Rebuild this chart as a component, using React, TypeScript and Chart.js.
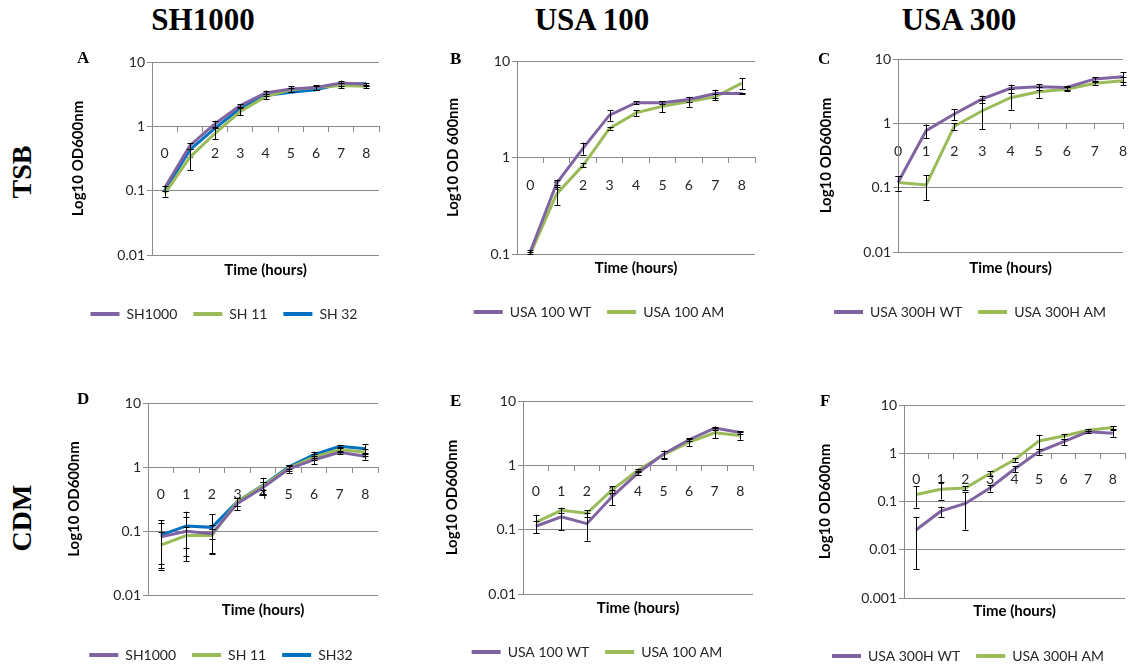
import { useEffect, useRef } from 'react';
import { Chart, registerables } from 'chart.js';

Chart.register(...registerables);
Chart.defaults.font.family = "Lato, 'Liberation Sans', sans-serif";

// Sampling times (hours)
const HOURS = ['0', '1', '2', '3', '4', '5', '6', '7', '8'];

// A — SH1000 background in TSB (OD600, mean and SD)
const A_SH1000 = [0.11, 0.5, 1.1, 2.1, 3.3, 3.8, 4.0, 4.7, 4.5];
const A_SH1000_SD = [0.01, 0.05, 0.12, 0.1, 0.3, 0.4, 0.35, 0.45, 0.2];
const A_SH11 = [0.09, 0.33, 0.78, 1.7, 2.9, 3.7, 4.0, 4.3, 4.2];
const A_SH11_SD = [0.01, 0.12, 0.15, 0.22, 0.25, 0.3, 0.3, 0.4, 0.25];
const A_SH32 = [0.1, 0.43, 0.94, 1.9, 3.0, 3.4, 3.7, 4.6, 4.6];

// B — USA 100 in TSB
const B_WT = [0.105, 0.54, 1.25, 2.75, 3.7, 3.7, 4.0, 4.6, 4.6];
const B_WT_SD = [0.005, 0.05, 0.18, 0.35, 0.15, 0.15, 0.2, 0.45, 0.1];
const B_AM = [0.1, 0.42, 0.83, 2.0, 2.9, 3.4, 3.8, 4.25, 5.9];
const B_AM_SD = [0.005, 0.1, 0.04, 0.05, 0.2, 0.45, 0.45, 0.3, 0.8];

// C — USA 300 in TSB
const C_WT = [0.12, 0.77, 1.4, 2.4, 3.5, 3.7, 3.6, 4.9, 5.3];
const C_WT_SD = [0.03, 0.18, 0.27, 0.3, 0.5, 0.35, 0.25, 0.3, 0.9];
const C_AM = [0.12, 0.11, 0.9, 1.57, 2.5, 3.1, 3.4, 4.2, 4.6];
const C_AM_SD = [0.03, 0.045, 0.1, 0.75, 0.87, 0.6, 0.25, 0.2, 0.7];

// D — SH1000 background in CDM
const D_SH1000 = [0.081, 0.099, 0.091, 0.27, 0.48, 0.93, 1.3, 1.7, 1.47];
const D_SH1000_SD = [0.05, 0.065, 0.015, 0.06, 0.1, 0.12, 0.2, 0.1, 0.17];
const D_SH11 = [0.06, 0.085, 0.085, 0.29, 0.51, 0.96, 1.43, 1.87, 1.7];
const D_SH11_SD = [0.035, 0.03, 0.04, 0.04, 0.08, 0.1, 0.15, 0.15, 0.2];
const D_SH32 = [0.086, 0.12, 0.114, 0.29, 0.52, 1.0, 1.56, 2.1, 1.93];
const D_SH32_SD = [0.06, 0.08, 0.07, 0.04, 0.16, 0.08, 0.18, 0.1, 0.35];

// E — USA 100 in CDM
const E_WT = [0.113, 0.158, 0.124, 0.33, 0.76, 1.5, 2.5, 3.8, 3.25];
const E_WT_SD = [0.025, 0.06, 0.057, 0.09, 0.05, 0.2, 0.15, 0.2, 0.15];
const E_AM = [0.13, 0.2, 0.18, 0.42, 0.84, 1.46, 2.3, 3.2, 2.9];
const E_AM_SD = [0.04, 0.02, 0.02, 0.05, 0.05, 0.22, 0.3, 0.55, 0.4];

// F — USA 300 in CDM
const F_WT = [0.026, 0.063, 0.091, 0.19, 0.47, 1.08, 1.74, 2.8, 2.6];
const F_WT_SD = [0.022, 0.015, 0.065, 0.03, 0.07, 0.15, 0.25, 0.15, 0.4];
const F_AM = [0.14, 0.18, 0.19, 0.38, 0.73, 1.8, 2.27, 3.0, 3.4];
const F_AM_SD = [0.065, 0.07, 0.02, 0.05, 0.06, 0.6, 0.25, 0.15, 0.25];

// Log axis decades
const TICKS_01_10 = [0.1, 1, 10];
const TICKS_001_10 = [0.01, 0.1, 1, 10];
const TICKS_0001_10 = [0.001, 0.01, 0.1, 1, 10];

const PURPLE = '#8064A2';
const GREEN = '#9BBB59';
const BLUE = '#0070C0';
const GRID = '#8a8a8a';
const TEXT = '#262626';

type Series = { label: string; color: string; values: number[]; sd?: number[] };
type PanelSpec = {
  yTitle: string;
  yTicks: number[];
  offset: boolean;
  series: Series[];
  box: { left: number; top: number; width: number; height: number };
  pad: number;
  yAxisWidth: number;
  yTitlePad: number;
  xTickPad: number;
  titlePad: { top: number; bottom: number };
};

const PANELS: PanelSpec[] = [
  {
    yTitle: 'Log10 OD600nm', yTicks: TICKS_001_10, offset: true,
    series: [
      { label: 'SH1000', color: PURPLE, values: A_SH1000, sd: A_SH1000_SD },
      { label: 'SH 11', color: GREEN, values: A_SH11, sd: A_SH11_SD },
      { label: 'SH 32', color: BLUE, values: A_SH32 },
    ],
    box: { left: 63, top: 52, width: 322, height: 279 }, pad: 6, yAxisWidth: 83, yTitlePad: 0,
    xTickPad: 14, titlePad: { top: 6, bottom: 12 },
  },
  {
    yTitle: 'Log10 OD 600nm', yTicks: TICKS_01_10, offset: true,
    series: [
      { label: 'USA 100 WT', color: PURPLE, values: B_WT, sd: B_WT_SD },
      { label: 'USA 100 AM', color: GREEN, values: B_AM, sd: B_AM_SD },
    ],
    box: { left: 437, top: 51, width: 324, height: 278 }, pad: 6, yAxisWidth: 74, yTitlePad: 1,
    xTickPad: 14.5, titlePad: { top: 5, bottom: 12 },
  },
  {
    yTitle: 'Log10 OD600nm', yTicks: TICKS_001_10, offset: false,
    series: [
      { label: 'USA 300H WT', color: PURPLE, values: C_WT, sd: C_WT_SD },
      { label: 'USA 300H AM', color: GREEN, values: C_AM, sd: C_AM_SD },
    ],
    box: { left: 811, top: 49, width: 318, height: 280 }, pad: 6, yAxisWidth: 81, yTitlePad: 0,
    xTickPad: 14.5, titlePad: { top: 7, bottom: 12 },
  },
  {
    yTitle: 'Log10 OD600nm', yTicks: TICKS_001_10, offset: true,
    series: [
      { label: 'SH1000', color: PURPLE, values: D_SH1000, sd: D_SH1000_SD },
      { label: 'SH 11', color: GREEN, values: D_SH11, sd: D_SH11_SD },
      { label: 'SH32', color: BLUE, values: D_SH32, sd: D_SH32_SD },
    ],
    box: { left: 58, top: 393, width: 326, height: 279 }, pad: 6, yAxisWidth: 84, yTitlePad: 1,
    xTickPad: 14.5, titlePad: { top: 6, bottom: 13 },
  },
  {
    yTitle: 'Log10 OD600nm', yTicks: TICKS_001_10, offset: true,
    series: [
      { label: 'USA 100 WT', color: PURPLE, values: E_WT, sd: E_WT_SD },
      { label: 'USA 100 AM', color: GREEN, values: E_AM, sd: E_AM_SD },
    ],
    box: { left: 435, top: 391, width: 324, height: 278 }, pad: 6, yAxisWidth: 82, yTitlePad: 2,
    xTickPad: 12.5, titlePad: { top: 5, bottom: 12 },
  },
  {
    yTitle: 'Log10 OD600nm', yTicks: TICKS_0001_10, offset: true,
    series: [
      { label: 'USA 300H WT', color: PURPLE, values: F_WT, sd: F_WT_SD },
      { label: 'USA 300H AM', color: GREEN, values: F_AM, sd: F_AM_SD },
    ],
    box: { left: 806, top: 395, width: 324, height: 278 }, pad: 5, yAxisWidth: 93, yTitlePad: 5,
    xTickPad: 12.5, titlePad: { top: 4, bottom: 13 },
  },
];

// Draws mean ± SD whiskers with caps for every dataset that carries an `errors` array
const errorBarPlugin = {
  id: 'errorBars',
  afterDatasetsDraw(chart: any) {
    const { ctx, chartArea } = chart;
    const yScale = chart.scales.y;
    ctx.save();
    ctx.strokeStyle = '#000';
    ctx.lineWidth = 1;
    chart.data.datasets.forEach((ds: any, di: number) => {
      const errs: number[] | undefined = ds.errors;
      if (!errs) return;
      const meta = chart.getDatasetMeta(di);
      meta.data.forEach((pt: any, i: number) => {
        const v = ds.data[i];
        const e = errs[i];
        if (!e) return;
        const x = Math.round(pt.x) + 0.5;
        const yTop = Math.max(yScale.getPixelForValue(v + e), chartArea.top);
        const low = v - e;
        const lowClipped = !(low > 0) || yScale.getPixelForValue(low) > chartArea.bottom;
        const yBot = lowClipped ? chartArea.bottom : yScale.getPixelForValue(low);
        ctx.beginPath();
        ctx.moveTo(x, yTop);
        ctx.lineTo(x, yBot);
        ctx.moveTo(x - 3, Math.round(yTop) + 0.5);
        ctx.lineTo(x + 3, Math.round(yTop) + 0.5);
        if (!lowClipped) {
          ctx.moveTo(x - 3, Math.round(yBot) + 0.5);
          ctx.lineTo(x + 3, Math.round(yBot) + 0.5);
        }
        ctx.stroke();
      });
    });
    ctx.restore();
  },
};

function GrowthPanel({ spec }: { spec: PanelSpec }) {
  const ref = useRef<HTMLCanvasElement | null>(null);

  useEffect(() => {
    if (!ref.current) return;
    const yMin = spec.yTicks[0];
    const yMax = spec.yTicks[spec.yTicks.length - 1];
    const chart = new Chart(ref.current, {
      type: 'line',
      data: {
        labels: HOURS,
        datasets: spec.series.map((s) => ({
          label: s.label,
          data: s.values,
          errors: s.sd,
          borderColor: s.color,
          backgroundColor: s.color,
          borderWidth: 3,
          pointRadius: 0,
          pointHoverRadius: 0,
          tension: 0,
          fill: false,
        })) as any,
      },
      options: {
        responsive: false,
        animation: false,
        events: [],
        layout: { padding: { left: spec.pad, right: spec.pad, top: 10, bottom: 0 } },
        scales: {
          x: {
            type: 'category',
            position: { y: 1 } as any,
            offset: spec.offset,
            grid: {
              display: true,
              drawOnChartArea: false,
              drawTicks: true,
              tickLength: 5,
              offset: spec.offset,
              color: GRID,
            },
            border: { display: true, color: GRID, width: 1 },
            ticks: {
              padding: spec.xTickPad,
              font: { size: 14 },
              color: TEXT,
              maxRotation: 0,
              autoSkip: false,
            },
            afterFit: (s: any) => {
              s.paddingLeft = 0;
              s.paddingRight = 0;
            },
          },
          y: {
            type: 'logarithmic',
            min: yMin,
            max: yMax,
            afterBuildTicks: (s: any) => {
              s.ticks = spec.yTicks.map((v) => ({ value: v }));
            },
            ticks: {
              callback: (v: any) => String(v),
              font: { size: 14 },
              color: TEXT,
              padding: 2,
            },
            grid: { color: GRID, tickLength: 5, drawTicks: true },
            border: { display: true, color: GRID },
            title: {
              display: true,
              text: spec.yTitle,
              font: { size: 15, weight: 'bold' },
              color: '#000',
              padding: { top: spec.yTitlePad, bottom: 0 },
            },
            afterFit: (s: any) => {
              s.width = spec.yAxisWidth;
              s.paddingTop = 0;
              s.paddingBottom = 0;
            },
          },
        },
        plugins: {
          legend: {
            position: 'bottom',
            labels: {
              boxWidth: 29,
              boxHeight: 4,
              padding: 16,
              font: { size: 14 },
              color: TEXT,
              generateLabels: (c: any) =>
                (Chart.defaults.plugins.legend.labels as any)
                  .generateLabels(c)
                  .map((it: any) => ({ ...it, lineWidth: 0, fillStyle: it.strokeStyle })),
            },
          },
          title: {
            display: true,
            text: 'Time (hours)',
            position: 'bottom',
            fullSize: false,
            weight: 500,
            font: { size: 15, weight: 'bold' },
            color: '#000',
            padding: spec.titlePad,
          },
          tooltip: { enabled: false },
        },
      } as any,
      plugins: [errorBarPlugin],
    });
    return () => chart.destroy();
  }, [spec]);

  const { left, top, width, height } = spec.box;
  return (
    <canvas
      ref={ref}
      width={width}
      height={height}
      style={{ position: 'absolute', left, top, width, height }}
    />
  );
}

const serif = "'Liberation Serif', 'Times New Roman', serif";

const headStyle = (cx: number): React.CSSProperties => ({
  position: 'absolute',
  left: cx,
  top: 4,
  transform: 'translateX(-50%)',
  font: `bold 31px/1 ${serif}`,
  color: '#000',
  whiteSpace: 'nowrap',
});

const letterStyle = (x: number, y: number): React.CSSProperties => ({
  position: 'absolute',
  left: x,
  top: y,
  font: `bold 17px/1 ${serif}`,
  color: '#000',
});

const rowStyle = (cy: number): React.CSSProperties => ({
  position: 'absolute',
  left: 22,
  top: cy,
  transform: 'translate(-50%, -50%) rotate(-90deg)',
  font: `bold 28px/1 ${serif}`,
  color: '#000',
  whiteSpace: 'nowrap',
});

export default function App() {
  return (
    <div
      style={{
        position: 'fixed',
        left: 0,
        top: 0,
        width: 1130,
        height: 664,
        overflow: 'hidden',
        background: '#fff',
      }}
    >
      <div style={headStyle(203)}>SH1000</div>
      <div style={headStyle(592)}>USA 100</div>
      <div style={headStyle(959)}>USA 300</div>
      <div style={rowStyle(172)}>TSB</div>
      <div style={rowStyle(518)}>CDM</div>
      {PANELS.map((p, i) => (
        <GrowthPanel key={i} spec={p} />
      ))}
      <div style={letterStyle(77, 49)}>A</div>
      <div style={letterStyle(450, 50)}>B</div>
      <div style={letterStyle(818, 50)}>C</div>
      <div style={letterStyle(77, 390)}>D</div>
      <div style={letterStyle(450, 392)}>E</div>
      <div style={letterStyle(820, 392)}>F</div>
    </div>
  );
}
